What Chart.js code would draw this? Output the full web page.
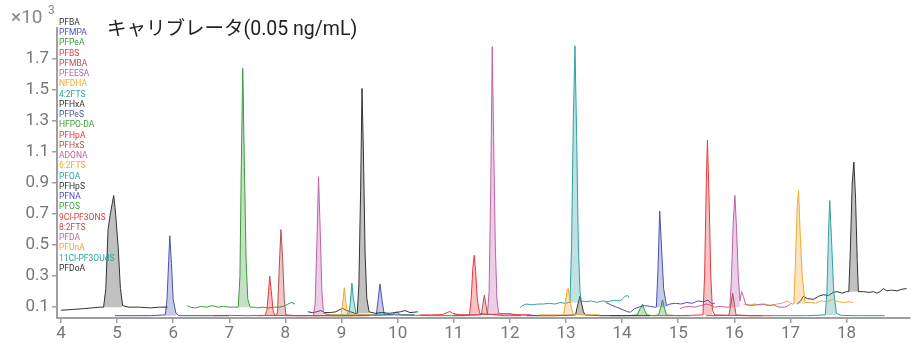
<!DOCTYPE html>
<html>
<head>
<meta charset="utf-8">
<script src="https://cdn.jsdelivr.net/npm/chart.js@4.4.0/dist/chart.umd.min.js"></script>
<style>
  html, body { margin: 0; background: #fff; }
  #wrap { width: 919px; height: 343px; }
</style>
</head>
<body>
<div id="wrap"><canvas id="chart" width="919" height="343"></canvas></div>
<script>
// Compound names, in legend / elution order
const compounds = ['PFBA', 'PFMPA', 'PFPeA', 'PFBS', 'PFMBA', 'PFEESA', 'NFDHA', '4:2FTS',
  'PFHxA', 'PFPeS', 'HFPO-DA', 'PFHpA', 'PFHxS', 'ADONA', '6:2FTS', 'PFOA',
  'PFHpS', 'PFNA', 'PFOS', '9Cl-PF3ONS', '8:2FTS', 'PFDA', 'PFUnA', '11Cl-PF3OUdS', 'PFDoA'];

const xTicks = [4, 5, 6, 7, 8, 9, 10, 11, 12, 13, 14, 15, 16, 17, 18];
const yTicks = [0.1, 0.3, 0.5, 0.7, 0.9, 1.1, 1.3, 1.5, 1.7];

// Traces: [retention time (min), intensity (x10^3)]
const pfba = [[4.0,0.08],[4.2,0.085],[4.4,0.09],[4.55,0.095],[4.7,0.1],[4.76,0.1],[4.8,0.22],[4.84,0.6],[4.88,0.7],[4.91,0.76],[4.94,0.82],[4.97,0.72],[5.02,0.49],[5.06,0.22],[5.1,0.11],[5.2,0.1],[5.4,0.1],[5.6,0.095],[5.75,0.1],[5.9,0.1]];
const pfmpa = [[4.96,0.045],[5.3,0.045],[5.6,0.045],[5.86,0.05],[5.89,0.15],[5.92,0.4],[5.94,0.56],[5.97,0.38],[6.0,0.15],[6.05,0.06],[6.1,0.045],[6.5,0.045],[7.0,0.045]];
const pfpea = [[6.25,0.11],[6.3,0.1],[6.4,0.095],[6.5,0.105],[6.6,0.1],[6.7,0.11],[6.8,0.1],[6.9,0.105],[7.0,0.1],[7.08,0.1],[7.16,0.1],[7.19,0.3],[7.21,0.9],[7.24,1.64],[7.27,1.0],[7.3,0.4],[7.33,0.15],[7.37,0.1],[7.45,0.1],[7.5,0.095],[7.6,0.1],[7.7,0.095],[7.8,0.1],[7.9,0.1],[8.0,0.11],[8.07,0.125],[8.12,0.13],[8.17,0.12]];
const pfbs = [[6.71,0.045],[7.0,0.047],[7.3,0.045],[7.64,0.047],[7.67,0.08],[7.7,0.2],[7.72,0.3],[7.75,0.2],[7.78,0.08],[7.81,0.047],[8.1,0.045],[8.5,0.045],[9.0,0.045],[9.5,0.045]];
const pfmba = [[7.5,0.045],[7.84,0.047],[7.86,0.07],[7.89,0.35],[7.92,0.6],[7.95,0.42],[7.98,0.15],[8.01,0.05],[8.2,0.045],[8.6,0.045]];
const pfeesa = [[8.0,0.045],[8.5,0.047],[8.53,0.12],[8.56,0.5],[8.59,0.94],[8.62,0.6],[8.65,0.2],[8.68,0.06],[8.85,0.045],[9.2,0.045]];
const nfdha = [[8.7,0.05],[8.99,0.05],[9.02,0.12],[9.05,0.226],[9.08,0.12],[9.11,0.055],[9.3,0.05],[9.6,0.05]];
const fts42 = [[8.8,0.05],[9.13,0.05],[9.16,0.14],[9.185,0.254],[9.21,0.16],[9.26,0.055],[9.45,0.05],[9.8,0.05]];
const pfhxa = [[8.4,0.07],[8.48,0.065],[8.56,0.07],[8.63,0.078],[8.7,0.065],[8.8,0.065],[8.9,0.07],[8.97,0.085],[9.02,0.092],[9.08,0.08],[9.16,0.07],[9.24,0.06],[9.28,0.06],[9.31,0.25],[9.34,0.85],[9.365,1.51],[9.39,1.1],[9.42,0.45],[9.45,0.16],[9.49,0.07],[9.6,0.06],[9.72,0.065],[9.85,0.06],[9.95,0.065],[10.05,0.07],[10.13,0.078],[10.22,0.065],[10.36,0.07]];
const pfpes = [[9.3,0.05],[9.62,0.05],[9.65,0.14],[9.685,0.25],[9.72,0.15],[9.76,0.055],[9.95,0.05],[10.3,0.05]];
const hfpoda = [[8.5,0.045],[9.3,0.045],[9.9,0.05],[9.98,0.07],[10.05,0.05],[10.6,0.045],[11.2,0.045]];
const pfhpa = [[10.4,0.05],[10.6,0.05],[10.8,0.052],[10.88,0.065],[10.93,0.072],[10.98,0.06],[11.1,0.05],[11.28,0.05],[11.31,0.15],[11.34,0.35],[11.365,0.435],[11.39,0.33],[11.42,0.15],[11.46,0.06],[11.6,0.052],[11.8,0.055],[12.0,0.058],[12.1,0.05],[12.36,0.05]];
const pfhxs = [[11.0,0.045],[11.49,0.05],[11.52,0.12],[11.545,0.177],[11.57,0.12],[11.6,0.055],[11.9,0.045],[12.2,0.045]];
const adona = [[11.0,0.05],[11.3,0.05],[11.6,0.055],[11.63,0.2],[11.66,0.9],[11.686,1.78],[11.71,1.2],[11.74,0.5],[11.77,0.15],[11.8,0.06],[12.0,0.055],[12.2,0.05],[12.4,0.05]];
const fts62 = [[12.5,0.05],[12.96,0.05],[12.99,0.13],[13.02,0.21],[13.04,0.22],[13.07,0.15],[13.1,0.09],[13.13,0.055],[13.3,0.05],[13.6,0.05]];
const pfoa = [[12.18,0.095],[12.22,0.11],[12.3,0.12],[12.4,0.115],[12.5,0.12],[12.6,0.12],[12.7,0.125],[12.8,0.12],[12.9,0.13],[12.98,0.125],[13.05,0.13],[13.07,0.13],[13.1,0.5],[13.13,1.3],[13.16,1.785],[13.19,1.2],[13.22,0.5],[13.25,0.2],[13.27,0.14],[13.35,0.135],[13.45,0.14],[13.55,0.13],[13.65,0.14],[13.75,0.135],[13.85,0.145],[13.95,0.14],[14.0,0.15],[14.05,0.17],[14.1,0.175],[14.12,0.16]];
const pfhps = [[12.3,0.045],[12.8,0.045],[13.17,0.05],[13.2,0.1],[13.25,0.172],[13.28,0.12],[13.31,0.07],[13.34,0.05],[13.6,0.045],[14.0,0.045],[14.5,0.045]];
const pfna = [[13.71,0.13],[13.8,0.115],[13.9,0.1],[14.0,0.085],[14.1,0.07],[14.15,0.068],[14.22,0.09],[14.3,0.1],[14.4,0.11],[14.5,0.105],[14.58,0.1],[14.61,0.1],[14.64,0.35],[14.67,0.72],[14.7,0.5],[14.74,0.22],[14.79,0.11],[14.85,0.12],[14.95,0.125],[15.05,0.12],[15.15,0.13],[15.25,0.125],[15.35,0.14],[15.45,0.135],[15.53,0.145],[15.6,0.12],[15.65,0.125]];
const pfos = [[13.8,0.045],[14.1,0.045],[14.27,0.05],[14.32,0.09],[14.365,0.12],[14.4,0.08],[14.44,0.05],[14.55,0.045],[14.65,0.05],[14.69,0.1],[14.72,0.147],[14.75,0.1],[14.79,0.05],[15.0,0.045],[15.2,0.045]];
const cl9pf3ons = [[14.55,0.045],[14.9,0.045],[15.2,0.047],[15.44,0.05],[15.47,0.3],[15.5,0.9],[15.52,1.177],[15.55,0.8],[15.58,0.3],[15.61,0.08],[15.65,0.05],[15.9,0.047],[16.2,0.045],[16.5,0.045],[16.69,0.045]];
const fts82 = [[15.5,0.045],[15.9,0.047],[15.93,0.1],[15.97,0.19],[16.0,0.12],[16.03,0.05],[16.3,0.045],[16.5,0.045]];
const pfda = [[15.03,0.09],[15.1,0.1],[15.2,0.105],[15.3,0.1],[15.4,0.11],[15.5,0.12],[15.56,0.115],[15.65,0.1],[15.75,0.105],[15.85,0.1],[15.92,0.1],[15.95,0.3],[15.98,0.65],[16.01,0.82],[16.04,0.6],[16.07,0.3],[16.1,0.14],[16.13,0.2],[16.16,0.17],[16.2,0.12],[16.3,0.11],[16.4,0.115],[16.5,0.12],[16.6,0.11],[16.7,0.115],[16.8,0.1],[16.9,0.1],[16.96,0.11],[17.0,0.12]];
const pfuna = [[16.16,0.12],[16.25,0.11],[16.35,0.12],[16.45,0.115],[16.55,0.12],[16.65,0.11],[16.75,0.12],[16.85,0.125],[16.95,0.14],[17.03,0.12],[17.06,0.12],[17.09,0.4],[17.12,0.75],[17.145,0.852],[17.17,0.6],[17.21,0.3],[17.26,0.13],[17.35,0.13],[17.45,0.125],[17.55,0.14],[17.65,0.135],[17.75,0.15],[17.85,0.135],[17.95,0.13],[18.05,0.135],[18.11,0.13]];
const cl11pf3ouds = [[16.69,0.045],[17.0,0.045],[17.3,0.045],[17.62,0.05],[17.65,0.2],[17.68,0.6],[17.7,0.787],[17.73,0.55],[17.77,0.2],[17.82,0.06],[17.9,0.047],[18.2,0.045],[18.68,0.045]];
const pfdoa = [[17.12,0.12],[17.18,0.14],[17.23,0.17],[17.3,0.155],[17.41,0.15],[17.5,0.17],[17.59,0.18],[17.68,0.175],[17.76,0.195],[17.83,0.2],[17.92,0.19],[18.0,0.2],[18.04,0.2],[18.07,0.5],[18.1,0.9],[18.13,1.036],[18.16,0.8],[18.19,0.4],[18.21,0.2],[18.3,0.2],[18.4,0.195],[18.48,0.2],[18.54,0.19],[18.6,0.2],[18.65,0.22],[18.72,0.205],[18.8,0.21],[18.9,0.205],[18.98,0.215],[19.07,0.22]];

const traces = [pfba, pfmpa, pfpea, pfbs, pfmba, pfeesa, nfdha, fts42, pfhxa, pfpes, hfpoda, pfhpa, pfhxs,
  adona, fts62, pfoa, pfhps, pfna, pfos, cl9pf3ons, fts82, pfda, pfuna, cl11pf3ouds, pfdoa];

// Integrated peak windows and their baselines
const peakStart = [4.76, 5.86, 7.16, 7.64, 7.84, 8.5, 8.99, 9.13, 9.28, 9.62, 9.9, 11.28, 11.49, 11.6, 12.96, 13.07, 13.17, 14.61, 14.27, 15.44, 15.9, 15.92, 17.06, 17.62, 18.04];
const peakEnd = [5.1, 6.05, 7.37, 7.81, 8.02, 8.69, 9.11, 9.26, 9.49, 9.76, 10.05, 11.46, 11.6, 11.8, 13.13, 13.27, 13.34, 14.79, 14.79, 15.62, 16.03, 16.11, 17.26, 17.82, 18.21];
const peakBase = [0.1, 0.045, 0.1, 0.047, 0.047, 0.047, 0.05, 0.05, 0.06, 0.05, 0.05, 0.05, 0.05, 0.055, 0.05, 0.13, 0.05, 0.1, 0.045, 0.05, 0.047, 0.1, 0.12, 0.05, 0.2];

// colour cycle used by the instrument software
const palette = [[50, 50, 50], [74, 82, 176], [60, 154, 60], [232, 56, 60], [181, 80, 74], [192, 96, 168], [240, 168, 48], [48, 160, 160]];
const rgba = (c, a) => `rgba(${c[0]},${c[1]},${c[2]},${a})`;

const datasets = [];
traces.forEach((tr, i) => {
    const col = palette[i % palette.length];
    const pts = tr.map(p => ({ x: p[0], y: p[1] }));
    datasets.push({
        data: pts,
        borderColor: rgba(col, 1),
        borderWidth: 1,
        pointRadius: 0,
        fill: false,
        tension: 0
    });
    datasets.push({
        data: pts.filter(p => p.x >= peakStart[i] && p.x <= peakEnd[i]),
        borderWidth: 0,
        borderColor: 'rgba(0,0,0,0)',
        backgroundColor: rgba(col, 0.3),
        pointRadius: 0,
        fill: { value: peakBase[i] },
        tension: 0
    });
});

const overlay = {
    id: 'overlay',
    afterDraw(chart) {
        const ctx = chart.ctx;
        ctx.save();
        ctx.textBaseline = 'middle';
        // compound legend
        ctx.font = '8.5px Roboto, "Noto Sans", sans-serif';
        ctx.textAlign = 'left';
        compounds.forEach((name, i) => {
            ctx.fillStyle = rgba(palette[i % palette.length], 1);
            ctx.fillText(name, 59, 22.7 + i * 10.25);
        });
        // title
        ctx.fillStyle = '#222';
        ctx.font = '19.5px Roboto, "Noto Sans CJK JP", sans-serif';
        ctx.fillText('キャリブレータ(0.05 ng/mL)', 107, 30);
        // unit
        ctx.fillStyle = '#888';
        ctx.font = '19px Roboto, sans-serif';
        ctx.fillText('×10', 11, 18);
        ctx.font = '12px Roboto, sans-serif';
        ctx.fillText('3', 48, 11);
        ctx.restore();
    }
};

new Chart(document.getElementById('chart'), {
    type: 'line',
    data: { datasets },
    options: {
        responsive: false,
        animation: false,
        layout: { padding: { top: 28, right: 9, left: 0, bottom: 0 } },
        plugins: { legend: { display: false }, tooltip: { enabled: false } },
        scales: {
            x: {
                type: 'linear',
                min: 3.93,
                max: 19.13,
                afterBuildTicks: s => { s.ticks = xTicks.map(v => ({ value: v })); },
                afterFit: s => { s.height = 25; },
                border: { color: '#a0a0a0', width: 2 },
                grid: { drawOnChartArea: false, color: '#a0a0a0', tickLength: 5, lineWidth: 1.5 },
                ticks: { color: '#777', font: { size: 17, family: 'Roboto' }, padding: 1, maxRotation: 0 }
            },
            y: {
                type: 'linear',
                min: 0.03,
                max: 1.9,
                afterBuildTicks: s => { s.ticks = yTicks.map(v => ({ value: v })); },
                afterFit: s => { s.width = 57; },
                border: { color: '#a0a0a0', width: 2 },
                grid: { drawOnChartArea: false, color: '#a0a0a0', tickLength: 5, lineWidth: 1.5 },
                ticks: { color: '#777', font: { size: 17, family: 'Roboto' }, padding: 3, callback: v => v.toFixed(1) }
            }
        }
    },
    plugins: [overlay]
});
</script>
</body>
</html>
